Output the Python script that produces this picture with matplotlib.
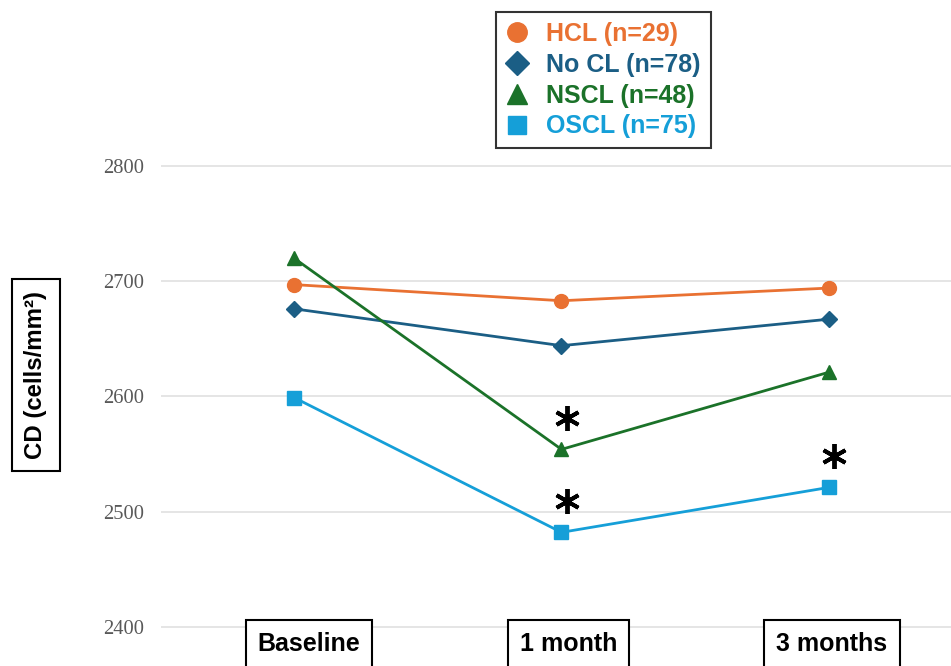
import matplotlib.pyplot as plt

# time points and mean CD values
timepoints = ['Baseline', '1 month', '3 months']
groups = ['HCL (n=29)', 'No CL (n=78)', 'NSCL (n=48)', 'OSCL (n=75)']
hcl = [2697, 2683, 2694]
no_cl = [2676, 2644, 2667]
nscl = [2720, 2554, 2621]
oscl = [2599, 2482, 2521]

# significant points: (series, timepoint index)
signif = [(nscl, 1), (oscl, 1), (oscl, 2)]

colors = ['#E97132', '#1B5E85', '#1B7229', '#159FD8']
markers = ['o', 'D', '^', 's']
msizes = [10, 8.5, 10, 9.5]

plt.rcParams['font.family'] = ['Liberation Sans', 'DejaVu Sans']

fig = plt.figure(figsize=(9.51, 6.66), dpi=100)
ax = fig.add_axes([161 / 951, 0, 1 - 161 / 951, 1])

x = range(len(timepoints))
for vals, name, c, m, ms in zip([hcl, no_cl, nscl, oscl], groups, colors, markers, msizes):
    ax.plot(x, vals, color=c, lw=2, marker=m, ms=ms, label=name, zorder=3)

# asterisks above significant points
for series, i in signif:
    ax.plot(i + 0.02, series[i] + 27, marker=(6, 2, 0), ms=18, mew=2.8,
            color='black', ls='none', zorder=4)

ax.set_xlim(-0.497, 2.456)
ax.set_ylim(2366, 2944)
ax.set_yticks([2400, 2500, 2600, 2700, 2800])
ax.yaxis.grid(True, color='#e3e3e3', lw=1.3)
ax.set_axisbelow(True)
for s in ax.spines.values():
    s.set_visible(False)
ax.tick_params(axis='y', length=0, pad=12, labelsize=14.8, labelcolor='#595959')
for t in ax.get_yticklabels():
    t.set_family('Liberation Serif')
ax.set_xticks([])

# boxed x labels
label_shift = [15, 7, 3]
for i, (lab, dx) in enumerate(zip(timepoints, label_shift)):
    ax.annotate(lab, xy=(i, 0), xycoords=('data', 'figure fraction'),
                xytext=(dx, 22), textcoords='offset pixels',
                ha='center', va='center', fontsize=18, fontweight='bold',
                bbox=dict(boxstyle='square,pad=0.48', fc='white', ec='black', lw=1.5))

# boxed y label
fig.text(36 / 951, 1 - 375 / 666, 'CD (cells/mm²)', rotation=90, ha='center', va='center',
         fontsize=17.3, fontweight='bold',
         bbox=dict(boxstyle='square,pad=0.5', fc='white', ec='black', lw=1.5))

leg = ax.legend(loc='upper left', bbox_to_anchor=(496 / 951, 1 - 12 / 666),
                bbox_transform=fig.transFigure, frameon=True, fancybox=False,
                prop={'weight': 'bold', 'size': 18},
                handlelength=0.9, handletextpad=0.7, labelspacing=0.27,
                borderpad=0.4, markerscale=1.4, borderaxespad=0)
leg.get_frame().set_edgecolor('black')
leg.get_frame().set_linewidth(1.5)
for h, c in zip(leg.legend_handles, colors):
    h.set_linestyle('none')
for t, c in zip(leg.get_texts(), colors):
    t.set_color(c)

fig.savefig('out.png', dpi=100)
